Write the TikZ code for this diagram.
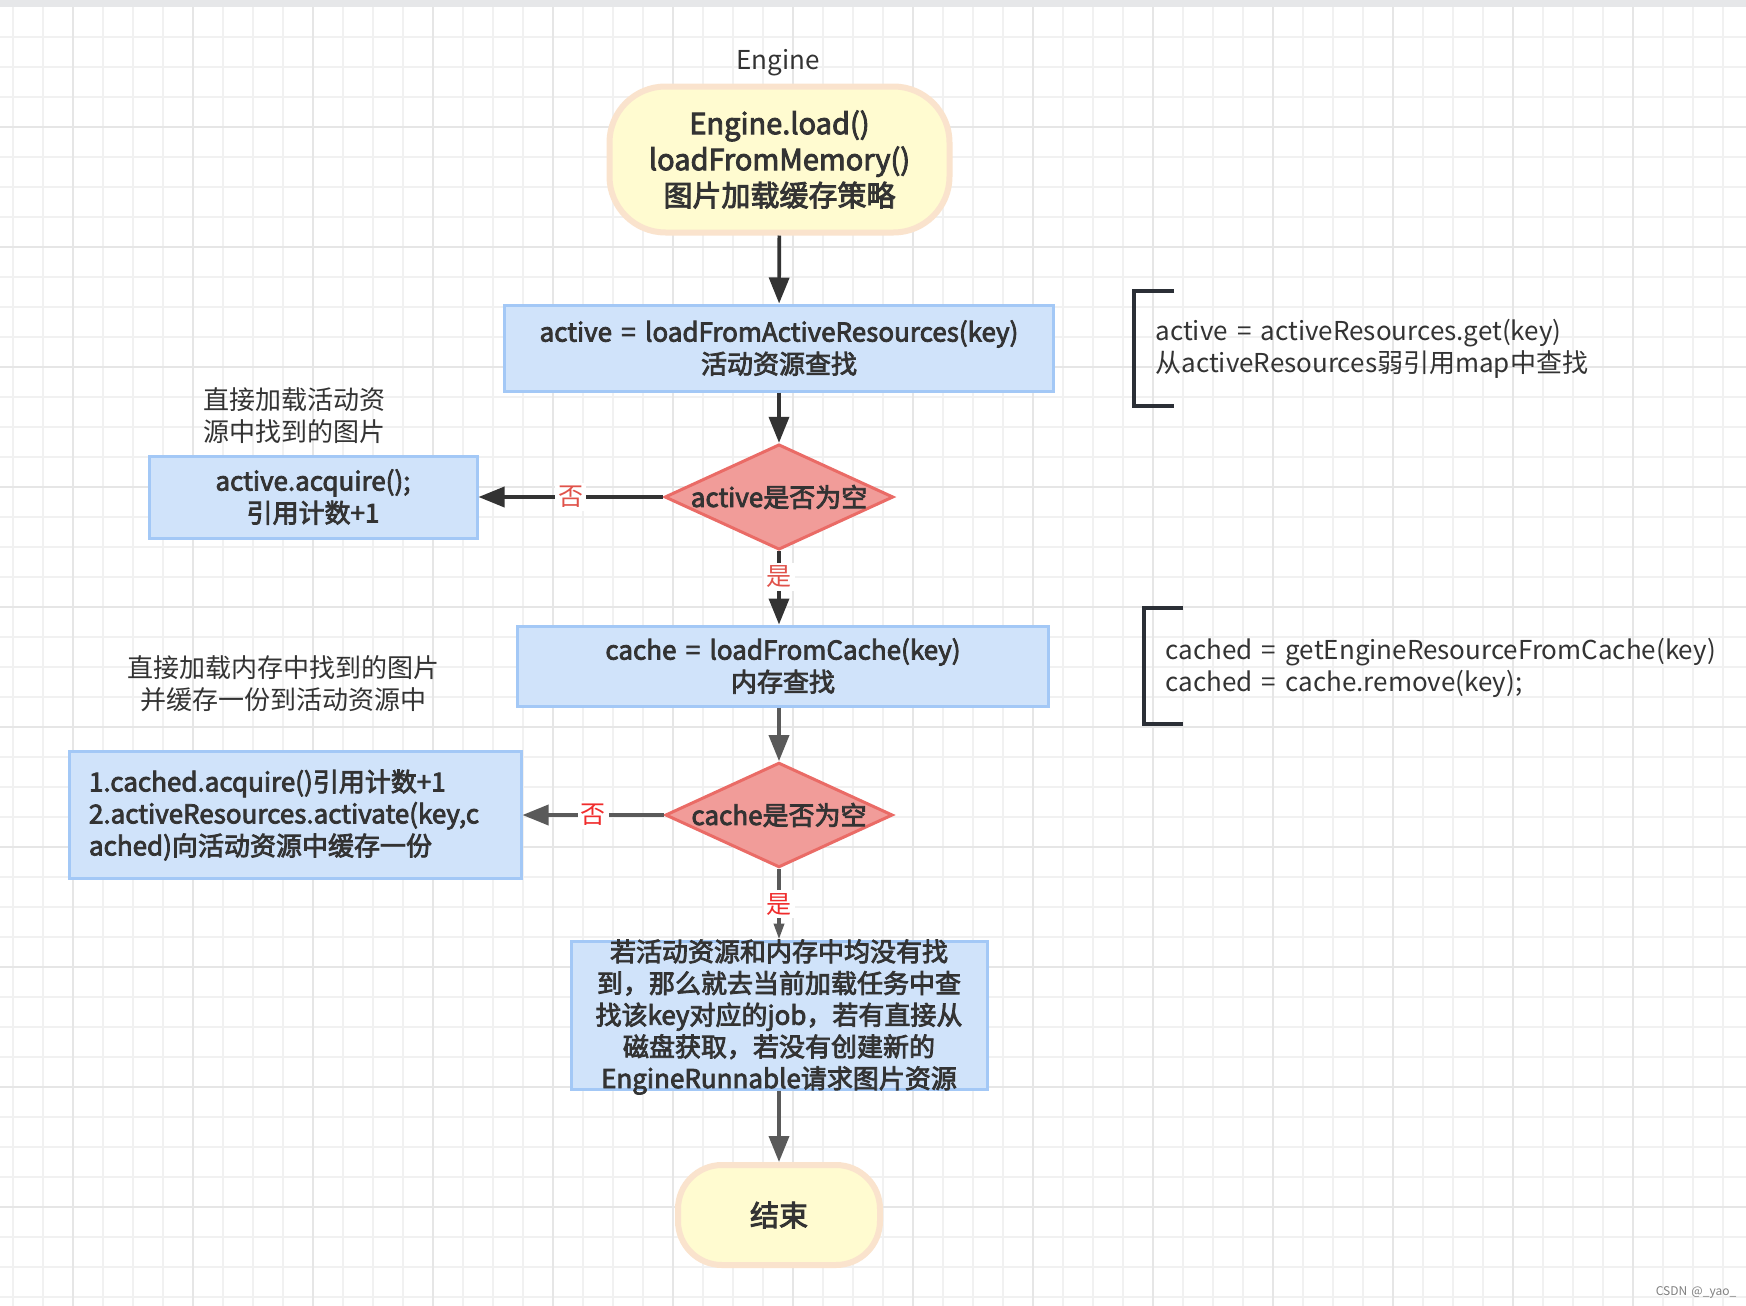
\documentclass[tikz,border=0pt]{standalone}
\usepackage{fontspec}
\setmainfont{Noto Sans CJK SC}[WordSpace=1.6,BoldFont={Noto Sans CJK SC},BoldFeatures={FakeBold=3}]
\usetikzlibrary{shapes.geometric,arrows.meta}

\definecolor{gridminor}{HTML}{F1F1F1}
\definecolor{gridmajor}{HTML}{E6E6E6}
\definecolor{topbar}{HTML}{E6E7E9}
\definecolor{termfill}{HTML}{FFFBD0}
\definecolor{termline}{HTML}{FAE3CD}
\definecolor{boxfill}{HTML}{D0E3FA}
\definecolor{boxline}{HTML}{A3C8F6}
\definecolor{decfill}{HTML}{F19C99}
\definecolor{decline}{HTML}{EA6B66}
\definecolor{txt}{HTML}{333333}
\definecolor{arrdark}{HTML}{333333}
\definecolor{arrgray}{HTML}{5A5A5A}
\definecolor{yesno}{HTML}{E0524A}
\definecolor{yesnob}{HTML}{F02C2C}
\definecolor{bracketc}{HTML}{2B2F36}

\begin{document}
\begin{tikzpicture}[x=0.5pt,y=0.5pt,yscale=-1,xscale=1,
    terminal/.style={draw=termline,fill=termfill,line width=3pt,rounded corners=28pt,text=txt,font=\fontsize{14.5}{18}\selectfont\bfseries,align=center,inner sep=0pt},
    process/.style={draw=boxline,fill=boxfill,line width=1.5pt,text=txt,font=\fontsize{13}{16}\selectfont\bfseries,align=center,inner sep=0pt},
    decision/.style={diamond,aspect=2.17,draw=decline,fill=decfill,line width=1.5pt,text=txt,font=\fontsize{13}{16}\selectfont\bfseries,inner sep=0pt,minimum width=113pt,minimum height=52pt},
    note/.style={text=txt,font=\fontsize{13}{16}\selectfont,inner sep=0pt},
    yesno/.style={fill=white,inner sep=1.5pt,font=\fontsize{12.5}{14}\selectfont},
    flow/.style={line width=1.8pt,-{Triangle[length=13pt,width=10pt]}},
    notebracket/.style={draw=bracketc,line width=2pt}
]
\useasboundingbox (0,0) rectangle (1746,1306);

% Background grid
\fill[white] (0,0) rectangle (1746,1306);
\foreach \x in {12.7,42.7,...,1746} \draw[gridminor,line width=1pt] (\x,7) -- (\x,1306);
\foreach \y in {36.7,66.7,...,1306} \draw[gridminor,line width=1pt] (0,\y) -- (1746,\y);
\foreach \x in {72.7,192.7,...,1746} \draw[gridmajor,line width=1pt] (\x,7) -- (\x,1306);
\foreach \y in {126.7,246.7,...,1306} \draw[gridmajor,line width=1pt] (0,\y) -- (1746,\y);
\fill[topbar] (0,0) rectangle (1746,7);

% Lane title
\node[note] (lane) at (778,63) {Engine};

% Start
\node[terminal,minimum width=170pt,minimum height=73pt] (start) at (779.5,159.5) {Engine.load()\\loadFromMemory()\\图片加载缓存策略};

% Active resources
\node[process,minimum width=274.5pt,minimum height=43pt] (active) at (779,348) {active = loadFromActiveResources(key)\\活动资源查找};
\node[decision] (isactive) at (779,497) {active是否为空};
\node[process,minimum width=164pt,minimum height=41pt] (acquire) at (313,497) {active.acquire();\\引用计数+1};
\node[note,align=center] (noteacquire) at (294.5,416) {直接加载活动资\\源中找到的图片};

% Memory cache
\node[process,minimum width=265.5pt,minimum height=40pt] (cache) at (783,666) {cache = loadFromCache(key)\\内存查找};
\node[decision] (iscache) at (779,815) {cache是否为空};
\node[process,minimum width=226pt,minimum height=63.5pt,text width=206pt,align=left] (activate) at (295,815) {1.cached.acquire()引用计数+1\\2.activeResources.activate(key,c\\ached)向活动资源中缓存一份};
\node[note,align=center] (notecache) at (283,684) {直接加载内存中找到的图片\\并缓存一份到活动资源中};

% Jobs
\node[process,minimum width=208pt,minimum height=74pt] (fetch) at (779,1015) {};
\node[text=txt,font=\fontsize{13}{15.85}\selectfont\bfseries,align=center,inner sep=0pt] (fetchtext) at (779,1017) {若活动资源和内存中均没有找\\到，那么就去当前加载任务中查\\找该key对应的job，若有直接从\\磁盘获取，若没有创建新的\\EngineRunnable请求图片资源};

% End
\node[terminal,rounded corners=22pt,minimum width=101pt,minimum height=50pt] (finish) at (779,1215) {结束};

% Side notes
\node[note,align=left,anchor=west] (noteget) at (1155,349) {active = activeResources.get(key)\\从activeResources弱引用map中查找};
\node[note,align=left,anchor=west] (noteremove) at (1165,667.5) {cached = getEngineResourceFromCache(key)\\cached = cache.remove(key);};
\draw[notebracket] (1174,291) -- (1134,291) -- (1134,406) -- (1174,406);
\draw[notebracket] (1183,608) -- (1144,608) -- (1144,724) -- (1183,724);

% Connectors
\draw[flow,arrdark] (start) -- (active);
\draw[flow,arrdark] (active) -- (isactive);
\draw[flow,arrdark] (isactive) -- node[yesno,text=yesno] (no1) {否} (acquire);
\draw[flow,arrdark] (isactive.south) -- node[yesno,text=yesno,pos=0.35] (yes1) {是} (isactive.south |- cache.north);
\draw[flow,arrgray] (iscache |- cache.south) -- (iscache);
\draw[flow,arrgray] (iscache) -- node[yesno,text=yesnob] (no2) {否} (activate);
\draw[line width=1.8pt,arrgray,-{Triangle[length=8pt,width=5pt]}] (iscache) -- node[yesno,text=yesnob] (yes2) {是} (fetch);
\draw[flow,arrgray] (fetch) -- (finish);

% Watermark
\node[text=gray,font=\fontsize{6}{7}\selectfont,inner sep=0pt] (mark) at (1696,1292) {CSDN @\_yao\_};
\end{tikzpicture}
\end{document}
